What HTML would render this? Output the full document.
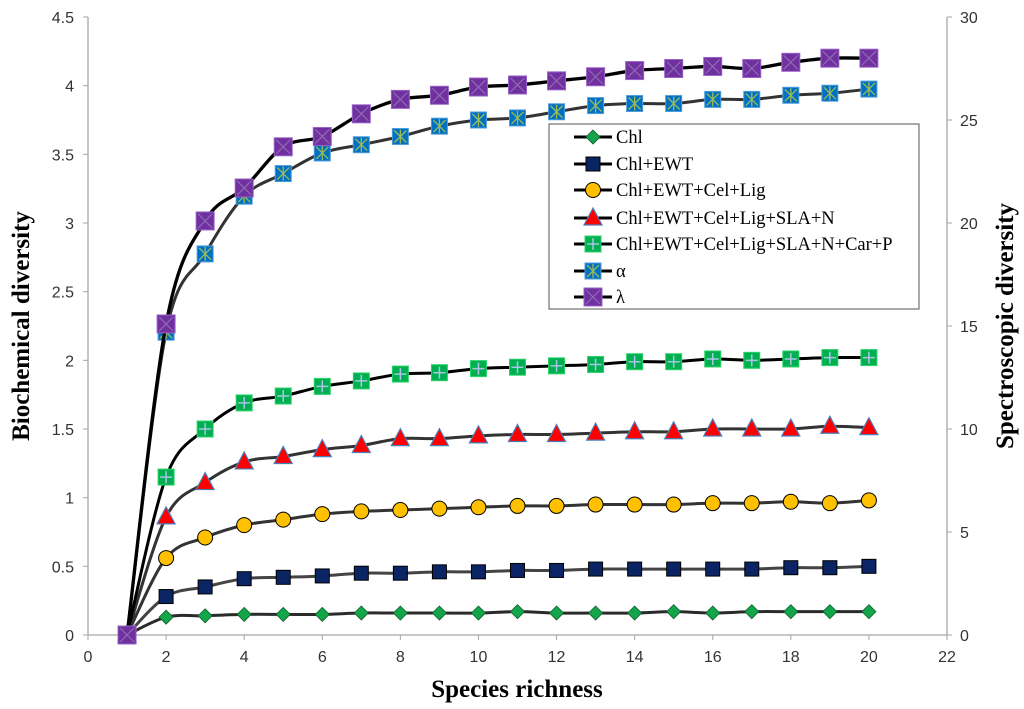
<!DOCTYPE html>
<html><head><meta charset="utf-8"><style>
body{margin:0;background:#fff}
svg{display:block}
</style></head><body>
<svg id="chart" width="1024" height="709" viewBox="0 0 1024 709" xmlns="http://www.w3.org/2000/svg">
<g id="axes"></g>
<g id="series"></g>
<g id="legend"></g>
</svg>
<script>
const xs=[1,2,3,4,5,6,7,8,9,10,11,12,13,14,15,16,17,18,19,20];
const chl=[0,.13,.14,.15,.15,.15,.16,.16,.16,.16,.17,.16,.16,.16,.17,.16,.17,.17,.17,.17];
const chlEwt=[0,.28,.35,.41,.42,.43,.45,.45,.46,.46,.47,.47,.48,.48,.48,.48,.48,.49,.49,.50];
const celLig=[0,.56,.71,.80,.84,.88,.90,.91,.92,.93,.94,.94,.95,.95,.95,.96,.96,.97,.96,.98];
const slaN=[0,.86,1.11,1.26,1.30,1.35,1.38,1.43,1.43,1.45,1.46,1.46,1.47,1.48,1.48,1.50,1.50,1.50,1.52,1.51];
const carP=[0,1.15,1.50,1.69,1.74,1.81,1.85,1.90,1.91,1.94,1.95,1.96,1.97,1.99,1.99,2.01,2.00,2.01,2.02,2.02];
const alpha=[0,14.7,18.5,21.3,22.4,23.4,23.8,24.2,24.7,25.0,25.1,25.4,25.7,25.8,25.8,26.0,26.0,26.2,26.3,26.5];
const lambda=[0,15.1,20.1,21.7,23.7,24.2,25.3,26.0,26.2,26.6,26.7,26.9,27.1,27.4,27.5,27.6,27.5,27.8,28.0,28.0];
const xTicks=[0,2,4,6,8,10,12,14,16,18,20,22];
const yLeftTicks=[0,0.5,1,1.5,2,2.5,3,3.5,4,4.5];
const yRightTicks=[0,5,10,15,20,25,30];
const legendLabels=["Chl","Chl+EWT","Chl+EWT+Cel+Lig","Chl+EWT+Cel+Lig+SLA+N","Chl+EWT+Cel+Lig+SLA+N+Car+P","α","λ"];

const NS="http://www.w3.org/2000/svg";
const X0=88,X1=947,Y0=635,Y1=17;
const xS=v=>X0+(v/22)*(X1-X0);
const yL=v=>Y0-(v/4.5)*(Y0-Y1);
const yR=v=>Y0-(v/30)*(Y0-Y1);
function mk(tag,attrs,parent){const e=document.createElementNS(NS,tag);for(const k in attrs)e.setAttribute(k,attrs[k]);parent.appendChild(e);return e;}
const axes=document.getElementById('axes'),ser=document.getElementById('series'),leg=document.getElementById('legend');

let a=mk('line',{x1:X0,y1:Y0,x2:X1,y2:Y0,stroke:'#a6a6a6','stroke-width':1.3},axes);

a=mk('line',{x1:X0,y1:Y1,x2:X0,y2:Y0,stroke:'#a6a6a6','stroke-width':1.3},axes);

a=mk('line',{x1:X1,y1:Y1,x2:X1,y2:Y0,stroke:'#a6a6a6','stroke-width':1.3},axes);

const tf='font-family:"Liberation Sans",sans-serif;font-size:16px;fill:#333';
xTicks.forEach(t=>{mk('line',{x1:xS(t),y1:Y0,x2:xS(t),y2:Y0+5,stroke:'#a6a6a6'},axes);
 const e=mk('text',{x:xS(t),y:Y0+27,'text-anchor':'middle',style:tf},axes);e.textContent=t;
 });
yLeftTicks.forEach(t=>{mk('line',{x1:X0-5,y1:yL(t),x2:X0,y2:yL(t),stroke:'#a6a6a6'},axes);
 const e=mk('text',{x:X0-14,y:yL(t)+6,'text-anchor':'end',style:tf},axes);e.textContent=t;
 });
yRightTicks.forEach(t=>{mk('line',{x1:X1,y1:yR(t),x2:X1+5,y2:yR(t),stroke:'#a6a6a6'},axes);
 const e=mk('text',{x:X1+13,y:yR(t)+6,'text-anchor':'start',style:tf},axes);e.textContent=t;
 });
const bf='font-family:"Liberation Serif",serif;font-size:25px;font-weight:bold;fill:#000';
let t=mk('text',{x:517,y:697,'text-anchor':'middle',style:bf},axes);t.textContent='Species richness';

t=mk('text',{x:0,y:0,'text-anchor':'middle',style:bf,transform:'translate(29,326) rotate(-90)'},axes);t.textContent='Biochemical diversity';

t=mk('text',{x:0,y:0,'text-anchor':'middle',style:bf,transform:'translate(1013,326) rotate(-90)'},axes);t.textContent='Spectroscopic diversity';


function smooth(pts){let d='M'+pts[0][0]+','+pts[0][1];
 for(let i=0;i<pts.length-1;i++){const p0=pts[Math.max(0,i-1)],p1=pts[i],p2=pts[i+1],p3=pts[Math.min(pts.length-1,i+2)];
  const k=1/6;d+=' C'+(p1[0]+(p2[0]-p0[0])*k)+','+(p1[1]+(p2[1]-p0[1])*k)+' '+(p2[0]-(p3[0]-p1[0])*k)+','+(p2[1]-(p3[1]-p1[1])*k)+' '+p2[0]+','+p2[1];}
 return d;}
function marker(type,cx,cy,g){
 if(type==='diamond')mk('polygon',{points:`${cx},${cy-7} ${cx+7},${cy} ${cx},${cy+7} ${cx-7},${cy}`,fill:'#13a54a',stroke:'#0d5c2a','stroke-width':0.8},g);
 else if(type==='square')mk('rect',{x:cx-7,y:cy-7,width:14,height:14,fill:'#0b2463',stroke:'#000','stroke-width':1},g);
 else if(type==='circle')mk('circle',{cx,cy,r:7.5,fill:'#ffc000',stroke:'#000','stroke-width':1},g);
 else if(type==='tri')mk('polygon',{points:`${cx},${cy-10} ${cx+9},${cy+7} ${cx-9},${cy+7}`,fill:'#f00',stroke:'#4a7ebb','stroke-width':1.2},g);
 else if(type==='plus'){mk('rect',{x:cx-8,y:cy-8,width:16,height:16,fill:'#00b050',stroke:'#2bd36a','stroke-width':1},g);
  mk('path',{d:`M${cx-6},${cy}H${cx+6}M${cx},${cy-6}V${cy+6}`,stroke:'#a9c4e6','stroke-width':1.5},g);}
 else if(type==='star'){mk('rect',{x:cx-8,y:cy-8,width:16,height:16,fill:'#0070c0',stroke:'#4f9de0','stroke-width':1},g);
  mk('path',{d:`M${cx-6},${cy-6}L${cx+6},${cy+6}M${cx+6},${cy-6}L${cx-6},${cy+6}M${cx},${cy-7}V${cy+7}`,stroke:'#9bbb59','stroke-width':1.3},g);}
 else if(type==='x'){mk('rect',{x:cx-9,y:cy-9,width:18,height:18,fill:'#7030a0',stroke:'#9a63c8','stroke-width':1},g);
  mk('path',{d:`M${cx-7},${cy-7}L${cx+7},${cy+7}M${cx+7},${cy-7}L${cx-7},${cy+7}`,stroke:'#8e6cb0','stroke-width':1.2},g);}
}
const series=[
 {name:'series-chl',vals:chl,ax:yL,m:'diamond',col:'#2b2b2b',w:3},
 {name:'series-chl-ewt',vals:chlEwt,ax:yL,m:'square',col:'#444',w:3},
 {name:'series-chl-ewt-cel-lig',vals:celLig,ax:yL,m:'circle',col:'#333',w:3},
 {name:'series-chl-ewt-cel-lig-sla-n',vals:slaN,ax:yL,m:'tri',col:'#333',w:3},
 {name:'series-chl-ewt-cel-lig-sla-n-car-p',vals:carP,ax:yL,m:'plus',col:'#000',w:3},
 {name:'series-alpha',vals:alpha,ax:yR,m:'star',col:'#333',w:3},
 {name:'series-lambda',vals:lambda,ax:yR,m:'x',col:'#000',w:3.3}];
series.forEach(s=>{const g=mk('g',{},ser);
 
 const pts=xs.map((x,i)=>[xS(x),s.ax(s.vals[i])]);
 mk('path',{d:smooth(pts),fill:'none',stroke:s.col,'stroke-width':s.w},g);
 pts.forEach(p=>marker(s.m,p[0],p[1],g));});

const box=mk('rect',{x:549,y:124,width:370,height:185,fill:'#fff',stroke:'#555','stroke-width':1},leg);

const rows=[137,164,190,218,244,271,297];
series.forEach((s,i)=>{const g=mk('g',{},leg);
 
 mk('line',{x1:574,y1:rows[i],x2:612,y2:rows[i],stroke:'#000','stroke-width':3},g);
 marker(s.m,593,rows[i],g);
 const e=mk('text',{x:616,y:rows[i]+6,style:'font-family:"Liberation Serif",serif;font-size:18.5px;fill:#000'},g);
 e.textContent=legendLabels[i];});
</script>
</body></html>
